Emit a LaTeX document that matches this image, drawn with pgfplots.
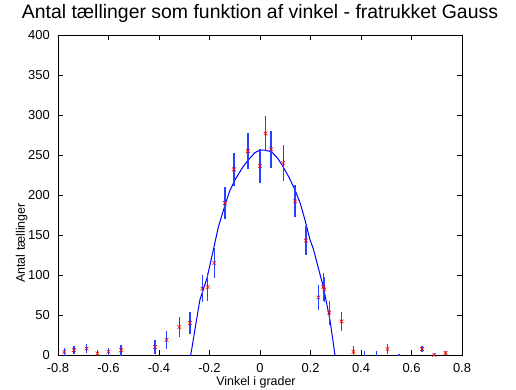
\documentclass[border=0pt]{standalone}
\usepackage{fontspec}
\setmainfont{Liberation Sans}
\usepackage{pgfplots}
\pgfplotsset{compat=1.18}
\usepackage{pgfplotstable}
\pgfplotstableread{
x y err
-0.775 4 5
-0.737 6 5
-0.687 8 6
-0.644 2 4
-0.600 4 5
-0.550 6 7
-0.416 10 9
-0.370 19 11
-0.320 35 13
-0.277 40 14
-0.228 83 17
-0.207 85 17
-0.181 115 19
-0.139 190 20
-0.103 232 21
-0.048 255 23
0.000 236 21
0.022 277 22
0.044 257 23
0.092 240 22
0.139 192 20
0.182 143 18
0.231 72 16
0.251 85 17
0.255 82 16
0.274 53 15
0.323 42 12
0.370 4 7
0.413 -4 9
0.460 -3 8
0.505 7.5 6
0.550 -5 6
0.642 7.5 4
0.690 0 3
0.735 2.5 3
}\datatab
\pgfplotstableread{
x y
-0.290 -25
-0.271 6
-0.255 37
-0.238 69
-0.210 96
-0.185 131
-0.165 160
-0.139 187
-0.120 205
-0.099 219
-0.070 234
-0.046 244
-0.020 253
0.000 256
0.020 256
0.046 254
0.070 246
0.092 235
0.115 222
0.139 206
0.160 189
0.178 169
0.198 144
0.211 133
0.230 110
0.251 85
0.277 44
0.297 0
0.310 -25
}\fittab
\definecolor{barblue}{rgb}{0.15,0.25,1}
\begin{document}
\begin{tikzpicture}
\useasboundingbox (-58bp,-35bp) rectangle (458bp,355bp);
\begin{axis}[
  scale only axis,
  width=404bp, height=320bp,
  xmin=-0.8, xmax=0.8, ymin=0, ymax=400,
  xtick={-0.8,-0.6,...,0.8},
  ytick={0,50,...,400},
  /pgf/number format/assume math mode=true,
  /pgf/number format/fixed,
  tick align=inside,
  major tick length=5bp,
  axis line style={line width=0.7bp},
  tick style={line width=0.7bp, black},
  tick label style={font=\fontsize{13}{13}\selectfont},
  xticklabel style={anchor=base, yshift=-17bp, inner sep=0pt},
  yticklabel style={anchor=east, xshift=-8bp, inner sep=0pt},
  title={Antal tællinger som funktion af vinkel - fratrukket Gauss},
  title style={font=\fontsize{19.5}{19.5}\selectfont, at={(axis description cs:0.5,1.0344)}, anchor=base, inner sep=0pt},
  xlabel={Vinkel i grader},
  xlabel style={font=\fontsize{12.5}{12.5}\selectfont, at={(axis description cs:0.49,-0.094)}, anchor=base, inner sep=0pt},
  ylabel={Antal tællinger},
  every axis y label/.style={font=\fontsize{12.5}{12.5}\selectfont, at={(axis description cs:-0.082,0.35)}, rotate=90, anchor=base, inner sep=0pt},
]
\addplot[blue, line width=1bp, no marks] table[x=x,y=y] {\fittab};
\addplot[color=barblue, only marks, mark=x, mark size=2.6bp, mark options={red, line width=0.6bp},
  error bars/.cd, y dir=both, y explicit, error mark=none,
  error bar style={color=barblue, line width=1.3bp}]
  table[x=x, y=y, y error=err] {\datatab};
\end{axis}
\end{tikzpicture}
\end{document}
